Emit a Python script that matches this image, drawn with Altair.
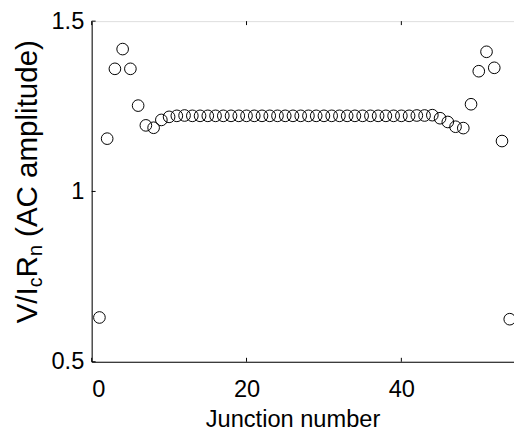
import altair as alt
import pandas as pd

# ---- data ----
junction = list(range(1, 55))
amplitude = [
    0.630, 1.155, 1.360, 1.418, 1.360, 1.252, 1.194, 1.187, 1.210, 1.219,
    1.222, 1.223, 1.222, 1.222, 1.222, 1.222, 1.222, 1.222, 1.222, 1.222,
    1.222, 1.222, 1.222, 1.222, 1.222, 1.222, 1.222, 1.222, 1.222, 1.222,
    1.222, 1.222, 1.222, 1.222, 1.222, 1.222, 1.222, 1.222, 1.222, 1.222,
    1.222, 1.223, 1.223, 1.224, 1.215, 1.204, 1.190, 1.186, 1.256, 1.353,
    1.410, 1.363, 1.148, 0.625,
]
x_ticks = [0, 20, 40]
y_ticks = [0.5, 1.0, 1.5]
x_title = "Junction number"

W, H = 429, 346
FONT = "Liberation Sans"

df = pd.DataFrame({"junction": junction, "amplitude": amplitude})
xt = pd.DataFrame({"t": x_ticks})
yt = pd.DataFrame({"t": y_ticks})

xscale = alt.Scale(domain=[0, 54.55], nice=False, zero=False)
yscale = alt.Scale(domain=[0.5, 1.5], nice=False, zero=False)

points = alt.Chart(df).mark_point(
    shape="circle", filled=False, color="black", size=140, strokeWidth=1.0, opacity=1
).encode(
    x=alt.X("junction:Q", scale=xscale,
            axis=alt.Axis(values=x_ticks, format="d", ticks=False, tickSize=0, grid=False,
                          domainColor="black", domainWidth=1,
                          labelFont=FONT, labelFontSize=24, labelColor="black",
                          labelPadding=16,
                          title=x_title, titleFont=FONT, titleFontSize=24,
                          titleFontWeight="normal", titleColor="black",
                          titleX=204, titleY=66, titleAlign="center",
                          titleBaseline="alphabetic")),
    y=alt.Y("amplitude:Q", scale=yscale,
            axis=alt.Axis(values=y_ticks, format=".1~f", ticks=False, tickSize=0, grid=False,
                          domainColor="black", domainWidth=1,
                          labelFont=FONT, labelFontSize=24, labelColor="black",
                          labelPadding=8, title="")),
)

tick_bottom = alt.Chart(xt).mark_rule(color="black", strokeWidth=1).encode(
    x=alt.X("t:Q", scale=xscale), y=alt.value(H), y2=alt.value(H - 4))
tick_top = alt.Chart(xt).mark_rule(color="black", strokeWidth=1).encode(
    x=alt.X("t:Q", scale=xscale), y=alt.value(0), y2=alt.value(4))
tick_left = alt.Chart(yt).mark_rule(color="black", strokeWidth=1).encode(
    y=alt.Y("t:Q", scale=yscale), x=alt.value(0), x2=alt.value(4))

# y-axis title built from pieces (with subscripts)
F, FS = 30, 20
bx = -56
y0 = 307


def piece(text, y, size, dx):
    return alt.Chart(pd.DataFrame({"s": [text]})).mark_text(
        angle=270, align="left", baseline="alphabetic", font=FONT,
        fontSize=size, color="black"
    ).encode(text="s:N", x=alt.value(bx + dx), y=alt.value(y))


w_vi = 1.223 * F
w_c = 0.5 * FS
w_r = 0.722 * F
w_n = 0.556 * FS
w_sp = 0.278 * F
ya = y0
yb = ya - w_vi
yc = yb - w_c
yd = yc - w_r
ye = yd - w_n - w_sp
title_layers = [
    piece("V/I", ya, F, 0),
    piece("c", yb, FS, 6),
    piece("R", yc, F, 0),
    piece("n", yd, FS, 6),
    piece("(AC amplitude)", ye, F, 0),
]

chart = alt.layer(points, tick_bottom, tick_top, tick_left, *title_layers).properties(
    width=W, height=H,
    autosize=alt.AutoSizeParams(type="none"),
    padding={"left": 85, "top": 10, "right": 0, "bottom": 68},
).configure_view(stroke="black", strokeWidth=1).configure(background="white")

chart.save("out.html", embed_options={"renderer": "svg", "actions": False})
